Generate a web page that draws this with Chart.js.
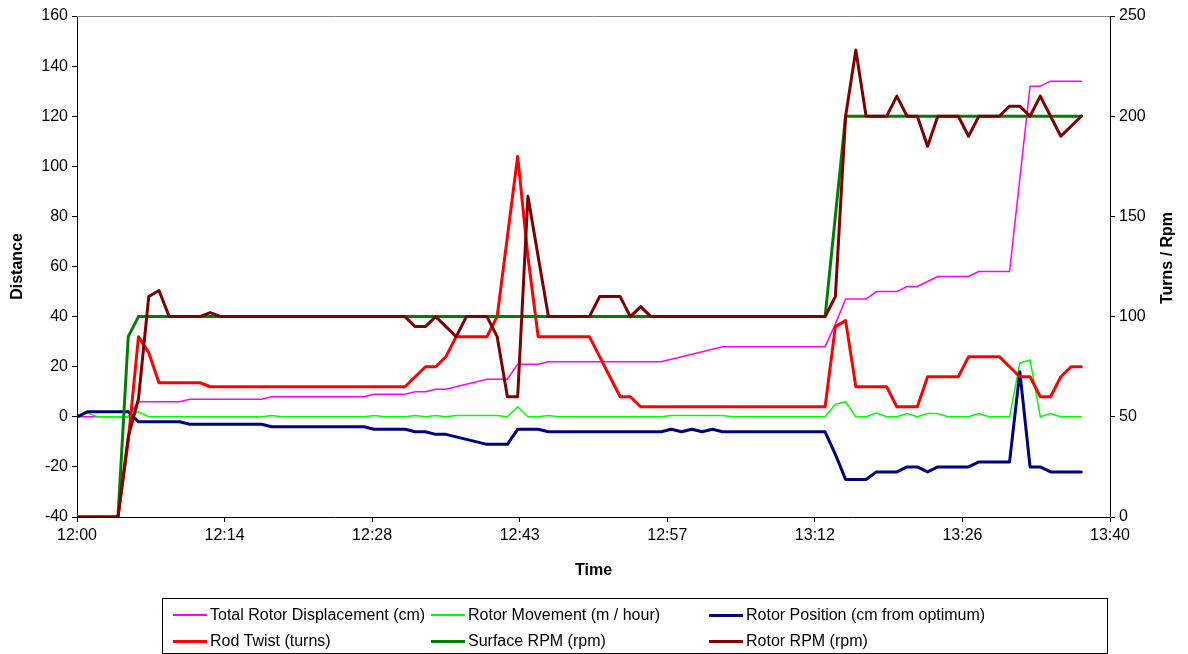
<!DOCTYPE html>
<html>
<head>
<meta charset="utf-8">
<script src="https://cdn.jsdelivr.net/npm/chart.js@4/dist/chart.umd.min.js"></script>
<style>
html, body { margin: 0; padding: 0; background: #fff; }
#wrap { position: relative; width: 1188px; height: 654px; overflow: hidden; }
#legend { position: absolute; left: 162px; top: 598px; width: 946px; height: 56px;
  border: 1px solid #000; box-sizing: border-box;
  font-family: "Liberation Sans", Arial, sans-serif; font-size: 16px; color: #000; }
.item { position: absolute; display: flex; align-items: center; height: 20px; white-space: nowrap; }
.swatch { width: 34px; margin-right: 3px; }
</style>
</head>
<body>
<div id="wrap">
  <canvas id="chart" width="1188" height="654"></canvas>
  <div id="legend"></div>
</div>
<script>
// minutes after 12:00
const minutes = [
  0, 1, 2, 3, 4, 5, 6, 7, 8, 9,
  10, 11, 12, 13, 14, 15, 16, 17, 18, 19,
  20, 21, 22, 23, 24, 25, 26, 27, 28, 29,
  30, 31, 32, 33, 34, 35, 36, 37, 38, 39,
  40, 41, 42, 43, 44, 45, 46, 47, 48, 49,
  50, 51, 52, 53, 54, 55, 56, 57, 58, 59,
  60, 61, 62, 63, 64, 65, 66, 67, 68, 69,
  70, 71, 72, 73, 74, 75, 76, 77, 78, 79,
  80, 81, 82, 83, 84, 85, 86, 87, 88, 89,
  90, 91, 92, 93, 94, 95, 96, 97, 98
];

const tickMinutes = [0, 14.4, 28.8, 43.2, 57.6, 72, 86.4, 100.8];
const tickLabels = ["12:00", "12:14", "12:28", "12:43", "12:57", "13:12", "13:26", "13:40"];

// left axis (Distance)
const totalDisplacement = [
  0, 0, 0, 0, 0, 0, 6, 6, 6, 6,
  6, 7, 7, 7, 7, 7, 7, 7, 7, 8,
  8, 8, 8, 8, 8, 8, 8, 8, 8, 9,
  9, 9, 9, 10, 10, 11, 11, 12, 13, 14,
  15, 15, 15, 21, 21, 21, 22, 22, 22, 22,
  22, 22, 22, 22, 22, 22, 22, 22, 23, 24,
  25, 26, 27, 28, 28, 28, 28, 28, 28, 28,
  28, 28, 28, 28, 37, 47, 47, 47, 50, 50,
  50, 52, 52, 54, 56, 56, 56, 56, 58, 58,
  58, 58, 95, 132, 132, 134, 134, 134, 134
];

const rotorMovement = [
  0, 1.5, 0, 0, 0, 0, 2, 0, 0, 0,
  0, 0, 0, 0, 0, 0, 0, 0, 0, 0.5,
  0, 0, 0, 0, 0, 0, 0, 0, 0, 0.5,
  0, 0, 0, 0.5, 0, 0.5, 0, 0.5, 0.5, 0.5,
  0.5, 0.5, 0, 4, 0, 0, 0.5, 0, 0, 0,
  0, 0, 0, 0, 0, 0, 0, 0, 0.5, 0.5,
  0.5, 0.5, 0.5, 0.5, 0, 0, 0, 0, 0, 0,
  0, 0, 0, 0, 5, 6, 0, 0, 1.5, 0,
  0, 1.3, 0, 1.3, 1.3, 0, 0, 0, 1.3, 0,
  0, 0, 21.5, 22.7, 0, 1.3, 0, 0, 0
];

const rotorPosition = [
  0, 2, 2, 2, 2, 2, -2, -2, -2, -2,
  -2, -3, -3, -3, -3, -3, -3, -3, -3, -4,
  -4, -4, -4, -4, -4, -4, -4, -4, -4, -5,
  -5, -5, -5, -6, -6, -7, -7, -8, -9, -10,
  -11, -11, -11, -5, -5, -5, -6, -6, -6, -6,
  -6, -6, -6, -6, -6, -6, -6, -6, -5, -6,
  -5, -6, -5, -6, -6, -6, -6, -6, -6, -6,
  -6, -6, -6, -6, -15, -25, -25, -25, -22, -22,
  -22, -20, -20, -22, -20, -20, -20, -20, -18, -18,
  -18, -18, 18, -20, -20, -22, -22, -22, -22
];

// right axis (Turns / Rpm)
const rodTwist = [
  0, 0, 0, 0, 0, 38, 90, 82, 67, 67,
  67, 67, 67, 65, 65, 65, 65, 65, 65, 65,
  65, 65, 65, 65, 65, 65, 65, 65, 65, 65,
  65, 65, 65, 70, 75, 75, 80, 90, 90, 90,
  90, 100, 140, 180, 130, 90, 90, 90, 90, 90,
  90, 80, 70, 60, 60, 55, 55, 55, 55, 55,
  55, 55, 55, 55, 55, 55, 55, 55, 55, 55,
  55, 55, 55, 55, 95, 98, 65, 65, 65, 65,
  55, 55, 55, 70, 70, 70, 70, 80, 80, 80,
  80, 75, 70, 70, 60, 60, 70, 75, 75
];

const surfaceRpm = [
  0, 0, 0, 0, 0, 90, 100, 100, 100, 100,
  100, 100, 100, 100, 100, 100, 100, 100, 100, 100,
  100, 100, 100, 100, 100, 100, 100, 100, 100, 100,
  100, 100, 100, 100, 100, 100, 100, 100, 100, 100,
  100, 100, 100, 100, 100, 100, 100, 100, 100, 100,
  100, 100, 100, 100, 100, 100, 100, 100, 100, 100,
  100, 100, 100, 100, 100, 100, 100, 100, 100, 100,
  100, 100, 100, 100, 150, 200, 200, 200, 200, 200,
  200, 200, 200, 200, 200, 200, 200, 200, 200, 200,
  200, 200, 200, 200, 200, 200, 200, 200, 200
];

const rotorRpm = [
  0, 0, 0, 0, 0, 40, 59, 110, 113, 100,
  100, 100, 100, 102, 100, 100, 100, 100, 100, 100,
  100, 100, 100, 100, 100, 100, 100, 100, 100, 100,
  100, 100, 100, 95, 95, 100, 95, 90, 100, 100,
  100, 90, 60, 60, 160, 130, 100, 100, 100, 100,
  100, 110, 110, 110, 100, 105, 100, 100, 100, 100,
  100, 100, 100, 100, 100, 100, 100, 100, 100, 100,
  100, 100, 100, 100, 110, 200, 233, 200, 200, 200,
  210, 200, 200, 185, 200, 200, 200, 190, 200, 200,
  200, 205, 205, 200, 210, 200, 190, 195, 200
];

const seriesNames = [
  "Total Rotor Displacement (cm)", "Rotor Movement (m / hour)", "Rotor Position (cm from optimum)",
  "Rod Twist (turns)", "Surface RPM (rpm)", "Rotor RPM (rpm)"
];

const fontFamily = '"Liberation Sans", Arial, sans-serif';

function pts(values) {
  return values.map(function (v, i) { return { x: minutes[i], y: v }; });
}

function makeSet(name, values, color, width, axis, order) {
  return {
    label: name,
    data: pts(values),
    borderColor: color,
    backgroundColor: color,
    borderWidth: width,
    borderJoinStyle: "round",
    borderCapStyle: "round",
    pointRadius: 0,
    tension: 0,
    fill: false,
    yAxisID: axis,
    order: order
  };
}

let datasets = [
  makeSet(seriesNames[0], totalDisplacement, "#ff00ff", 1.5, "y", 5),
  makeSet(seriesNames[1], rotorMovement, "#00ff00", 1.5, "y", 4),
  makeSet(seriesNames[2], rotorPosition, "#000080", 3, "y", 3),
  makeSet(seriesNames[3], rodTwist, "#ff0000", 3, "y2", 2),
  makeSet(seriesNames[4], surfaceRpm, "#008000", 3, "y2", 1),
  makeSet(seriesNames[5], rotorRpm, "#800000", 3, "y2", 0)
];

// gray frame line on top of plot + right axis title (reads bottom to top)
const framePlugin = {
  id: "frame",
  beforeDatasetsDraw: function (chart) {
    let a = chart.chartArea;
    let ctx = chart.ctx;
    ctx.save();
    ctx.strokeStyle = "#808080";
    ctx.lineWidth = 1;
    ctx.beginPath();
    ctx.moveTo(a.left, a.top + 0.5);
    ctx.lineTo(a.right, a.top + 0.5);
    ctx.stroke();
    ctx.restore();
  },
  afterDraw: function (chart) {
    let ctx = chart.ctx;
    ctx.save();
    ctx.translate(1168, 258);
    ctx.rotate(-Math.PI / 2);
    ctx.font = "bold 16px " + fontFamily;
    ctx.fillStyle = "#000";
    ctx.textAlign = "center";
    ctx.textBaseline = "middle";
    ctx.fillText("Turns / Rpm", 0, 0);
    ctx.restore();
  }
};

const tickFont = { family: fontFamily, size: 16 };
const titleFont = { family: fontFamily, size: 16, weight: "bold" };

let chart = new Chart(document.getElementById("chart"), {
  type: "line",
  data: { datasets: datasets },
  plugins: [framePlugin],
  options: {
    responsive: false,
    animation: false,
    layout: { padding: { top: 16, bottom: 70, left: 0, right: 0 } },
    plugins: { legend: { display: false }, tooltip: { enabled: false } },
    scales: {
      x: {
        type: "linear",
        min: 0,
        max: 100.8,
        afterBuildTicks: function (s) {
          s.ticks = tickMinutes.map(function (v) { return { value: v }; });
        },
        afterFit: function (s) { s.height = 67; },
        ticks: {
          color: "#000", font: tickFont, padding: 4, autoSkip: false, maxRotation: 0,
          callback: function (v, i) { return tickLabels[i]; }
        },
        grid: { drawOnChartArea: false, drawTicks: true, tickLength: 5, color: "#000" },
        border: { color: "#000" },
        title: { display: true, text: "Time", color: "#000", font: titleFont, padding: { top: 0, bottom: 4 } }
      },
      y: {
        position: "left",
        min: -40,
        max: 160,
        afterFit: function (s) { s.width = 77; },
        ticks: { stepSize: 20, color: "#000", font: tickFont, padding: 4 },
        grid: { drawOnChartArea: false, drawTicks: true, tickLength: 5, color: "#000" },
        border: { color: "#000" },
        title: { display: true, text: "Distance", color: "#000", font: titleFont, padding: { top: 8, bottom: 0 } }
      },
      y2: {
        position: "right",
        min: 0,
        max: 250,
        afterFit: function (s) { s.width = 78; },
        ticks: { stepSize: 50, color: "#000", font: tickFont, padding: 4 },
        grid: { drawOnChartArea: false, drawTicks: true, tickLength: 5, color: "#000" },
        border: { color: "#000" }
      }
    }
  }
});

// legend box, 3 columns x 2 rows
let legend = document.getElementById("legend");
let colX = [10, 268, 546];
let rowY = [6, 32];
datasets.forEach(function (ds, i) {
  let item = document.createElement("div");
  item.className = "item";
  item.style.left = colX[i % 3] + "px";
  item.style.top = rowY[Math.floor(i / 3)] + "px";
  let sw = document.createElement("span");
  sw.className = "swatch";
  sw.style.height = ds.borderWidth + "px";
  sw.style.background = ds.borderColor;
  item.appendChild(sw);
  let label = document.createElement("span");
  label.textContent = ds.label;
  item.appendChild(label);
  legend.appendChild(item);
});
</script>
</body>
</html>
